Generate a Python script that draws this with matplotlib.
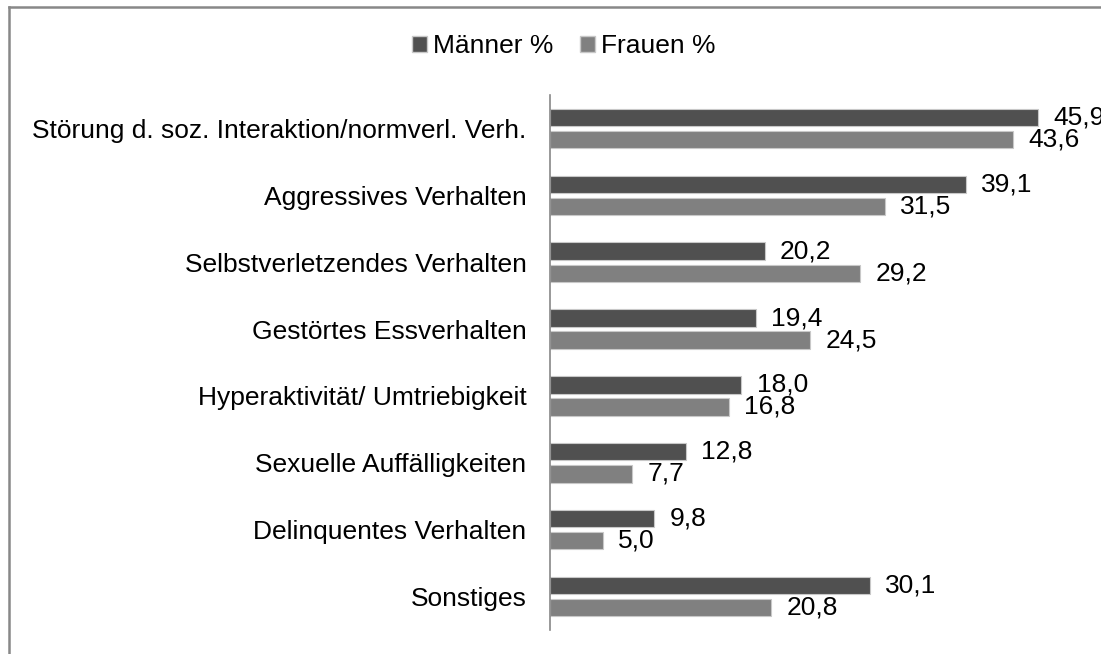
import matplotlib
matplotlib.use("Agg")
import matplotlib.pyplot as plt
from matplotlib.patches import Patch
from matplotlib.lines import Line2D
import numpy as np

categories = [
    "Störung d. soz. Interaktion/normverl. Verh.",
    "Aggressives Verhalten",
    "Selbstverletzendes Verhalten",
    "Gestörtes Essverhalten",
    "Hyperaktivität/ Umtriebigkeit",
    "Sexuelle Auffälligkeiten",
    "Delinquentes Verhalten",
    "Sonstiges",
]
maenner = [45.9, 39.1, 20.2, 19.4, 18.0, 12.8, 9.8, 30.1]
frauen = [43.6, 31.5, 29.2, 24.5, 16.8, 7.7, 5.0, 20.8]
series_names = ["Männer %", "Frauen %"]

DARK = "#505050"
LIGHT = "#808080"
EDGE = "#c8c8c8"
FS = 19

plt.rcParams["font.family"] = ["Liberation Sans", "DejaVu Sans"]

fig = plt.figure(figsize=(11.01, 6.54), dpi=100)
ax = fig.add_axes([550 / 1101, 1 - 630 / 654, 531.5 / 1101, 535 / 654])

y = np.arange(len(categories))
h = 0.26
off = 0.165
b1 = ax.barh(y - off, maenner, height=h, color=DARK, edgecolor=EDGE, linewidth=0.8)
b2 = ax.barh(y + off, frauen, height=h, color=LIGHT, edgecolor=EDGE, linewidth=0.8)

for bars, vals in ((b1, maenner), (b2, frauen)):
    for bar, v in zip(bars, vals):
        ax.annotate(f"{v:.1f}".replace(".", ","),
                    (bar.get_width(), bar.get_y() + bar.get_height() / 2),
                    xytext=(11, 0), textcoords="offset points",
                    ha="left", va="center", fontsize=FS, color="black",
                    annotation_clip=False)

ax.set_xlim(0, 50)
ax.set_ylim(len(categories) - 0.5, -0.5)
ax.set_yticks(y)
ax.set_yticklabels(categories, fontsize=FS)
ax.tick_params(axis="y", length=0, pad=17)
ax.set_xticks([])
for s in ("top", "right", "bottom"):
    ax.spines[s].set_visible(False)
ax.spines["left"].set_color("#888888")
ax.spines["left"].set_linewidth(1.2)

handles = [Patch(facecolor=DARK, edgecolor=EDGE), Patch(facecolor=LIGHT, edgecolor=EDGE)]
fig.legend(handles, series_names, loc="center", bbox_to_anchor=(564 / 1101, 1 - 46 / 654),
           ncol=2, frameon=False, fontsize=FS, handlelength=0.55, handleheight=0.55,
           handletextpad=0.25, columnspacing=1.0)

# outer frame (left and top edges visible)
fig.add_artist(Line2D([8.5 / 1101, 8.5 / 1101], [0, 1 - 6.5 / 654], transform=fig.transFigure,
                      color="#888888", linewidth=1.8))
fig.add_artist(Line2D([8.5 / 1101, 1], [1 - 6.5 / 654, 1 - 6.5 / 654], transform=fig.transFigure,
                      color="#888888", linewidth=1.8))

fig.savefig("out.png", dpi=100)
